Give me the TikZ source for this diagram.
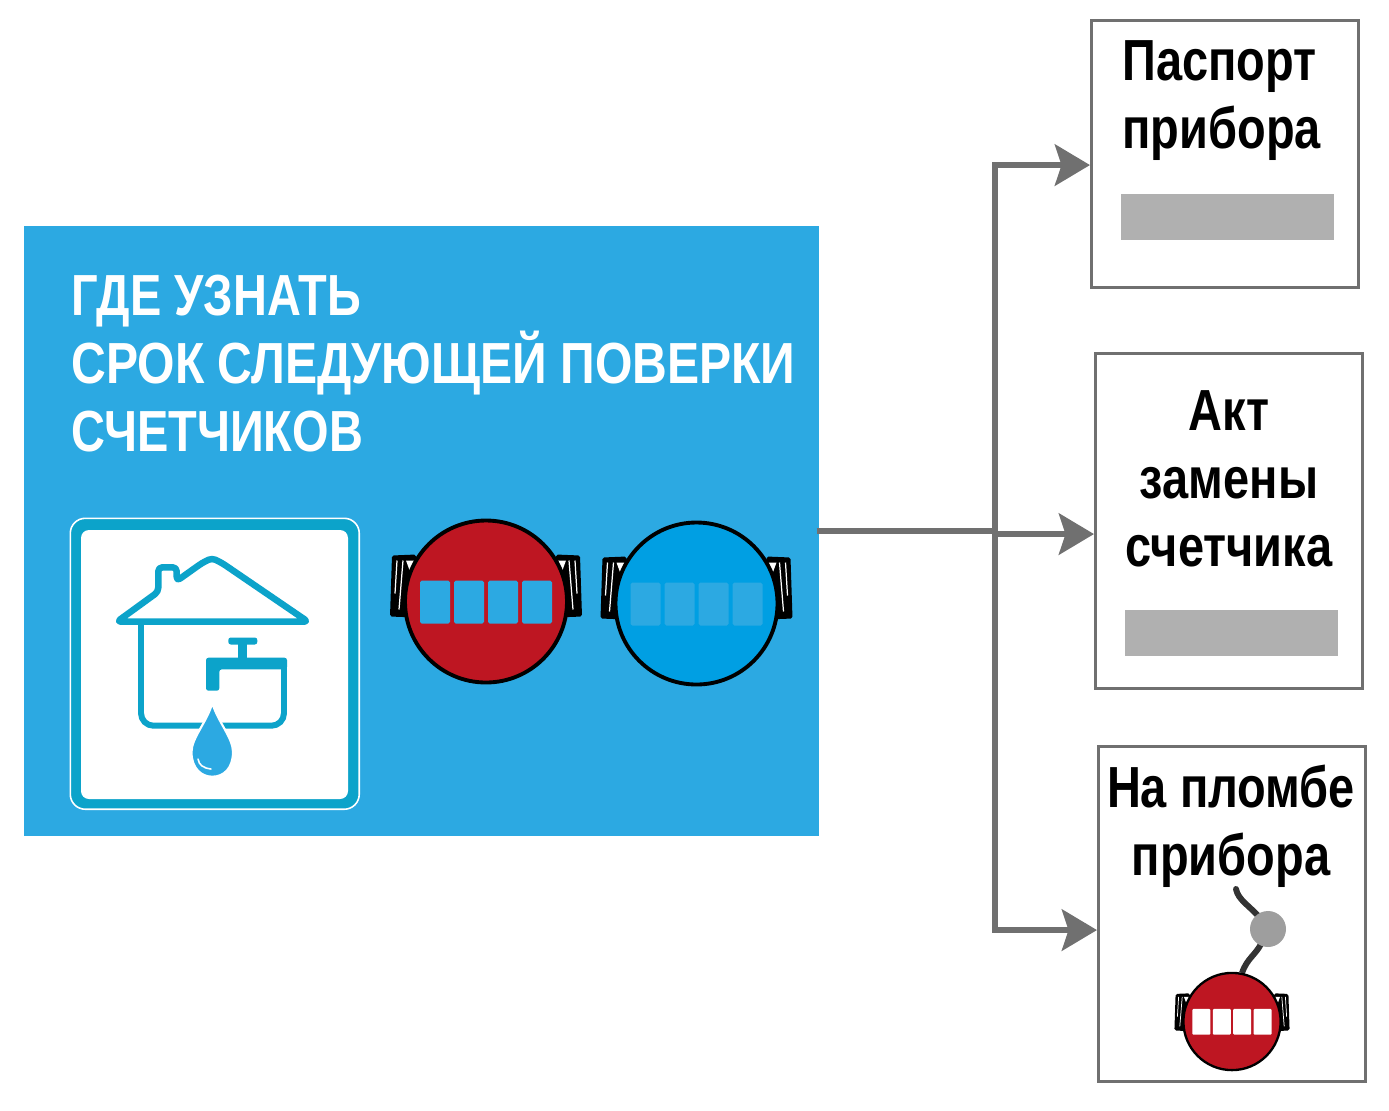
\documentclass[tikz,border=0pt]{standalone}
\usepackage{fontspec}
\usepackage{xcolor}
\usepackage{tikz}
\usetikzlibrary{positioning,arrows.meta,calc}
\setmainfont{Liberation Sans}[FakeStretch=0.81]
\definecolor{sky}{HTML}{2CA9E2}
\definecolor{teal}{HTML}{0CA3CA}
\definecolor{meterred}{HTML}{BE1622}
\definecolor{meterblue}{HTML}{009FE3}
\definecolor{frame}{HTML}{707070}
\definecolor{bar}{HTML}{B0B0B0}
% meter: x, y, scale, body colour, digit colour
\newcommand{\drawmeter}[5]{
    \begin{scope}[shift={(#1,#2)}, scale=#3]
        \foreach \s in {-1,1} {
            \fill[black, rounded corners=1pt] (\s*70,-47) -- (\s*94,-46) -- (\s*96,15) -- (\s*70,16) -- cycle;
            \fill[white] (\s*80,-41) -- (\s*72,-41) -- (\s*76,-30) -- cycle;
            \draw[white, line width=#3*0.7pt] (\s*83,-41) -- (\s*87,8);
            \draw[white, line width=#3*0.7pt] (\s*89,-41) -- (\s*91,-8);
        }
        \draw[black, fill=#4, line width=#3*2.2pt] (0,0) circle (81);
        \foreach \d in {-66,-32,2,36}
            \fill[#5, rounded corners=#3*1pt] (\d,-21) rectangle ++(30,43);
    \end{scope}
}

\begin{document}
\begin{tikzpicture}[
    x=0.02cm, y=-0.02cm,
    panel/.style={draw=frame, line width=1.8pt, fill=white, minimum width=5.34cm, inner sep=0pt},
    txt/.style={font=\fontsize{33}{38.7}\selectfont\bfseries, inner sep=0pt},
    placeholder/.style={fill=bar, minimum width=4.26cm, minimum height=0.92cm, inner sep=0pt},
    line/.style={draw=frame, line width=3.9pt},
    arr/.style={line, -{Stealth[length=7mm, width=8.2mm, inset=1.3mm]}},
    house/.style={draw=teal, line width=3.7pt, line join=round}
]
    \useasboundingbox (0,0) rectangle (1389,1110);

    % main panel
    \node[fill=sky, minimum width=15.9cm, minimum height=12.2cm, inner sep=0pt, anchor=north west] (src) at (24,226) {};
    \node[txt, white, align=left, anchor=west] (head) at (71,364) {ГДЕ УЗНАТЬ\\{\addfontfeature{FakeStretch=0.83}СРОК СЛЕДУЮЩЕЙ ПОВЕРКИ}\\СЧЕТЧИКОВ};

    % house icon
    \node[draw=white, line width=0.9pt, fill=teal, rounded corners=3mm, minimum width=5.78cm, minimum height=5.82cm, anchor=north west] (icon) at (69.5,517.5) {};
    \fill[white, rounded corners=1.6mm] (81,530) rectangle (348,799);
    \draw[house, rounded corners=0.8mm] (176.7,581) -- (176.7,567.3) -- (158.3,567.3) -- (158.3,591.7) -- (117,621.7) -- (308,621.7) -- (222,563) -- (212,558) -- (202,563) -- cycle;
    \draw[house, line width=3.4pt, rounded corners=2.5mm] (141,624) -- (141,725.7) -- (284,725.7) -- (284,660);
    \fill[teal, rounded corners=0.5mm] (206,657.7) -- (287,657.7) -- (287,669.3) -- (219.3,669.3) -- (219.3,690.7) -- (206,690.7) -- cycle;
    \fill[teal] (237.7,643) rectangle (247.3,658);
    \fill[teal, rounded corners=0.5mm] (228.3,637.5) rectangle (257.3,644.5);
    \draw[white, line width=1.2pt, fill=sky] (212.3,703) .. controls (207,722) and (191.5,738) .. (191.5,752) .. controls (191.5,768) and (201,776.7) .. (212.3,776.7) .. controls (224,776.7) and (233,768) .. (233,752) .. controls (233,738) and (218,722) .. (212.3,703) -- cycle;
    \draw[white, line width=0.9pt, line cap=round] (198,759) .. controls (199,765) and (203,768) .. (211,769);

    % meters
    \drawmeter{486}{601.5}{1}{meterred}{sky}
    \drawmeter{696.5}{603.5}{1}{meterblue}{sky}

    % right panels
    \node[panel, minimum height=5.34cm, anchor=north west] (passport) at (1090,19) {};
    \node[txt, align=left, anchor=west] (passporttxt) at (1122,101) {Паспорт\\прибора};
    \node[placeholder, anchor=north west] (passportbar) at (1121,194) {};

    \node[panel, minimum height=6.7cm, anchor=north west] (act) at (1094,352) {};
    \node[txt, align=center] (acttxt) at (1229,479) {Акт\\замены\\счетчика};
    \node[placeholder, anchor=north west] (actbar) at (1125,610) {};

    \node[panel, minimum height=6.7cm, anchor=north west] (seal) at (1097,745) {};
    \node[txt, align=center] (sealtxt) at (1231,826) {На пломбе\\прибора};

    % seal on its wire
    \draw[line width=3.4pt, draw=black!80, line cap=round] (1236,889) .. controls (1238,900) and (1250,906) .. (1260,918);
    \draw[line width=3.4pt, draw=black!80] (1262,942) .. controls (1256,955) and (1247,958) .. (1242,973);
    \node[circle, fill=bar!90!black, minimum size=0.72cm, inner sep=0pt] (plug) at (1268,929) {};
    \drawmeter{1232}{1021.5}{0.6}{meterred}{white}

    % connectors
    \coordinate (jmid) at (995,531);
    \coordinate (passportin) at ($(passport.west)+(0,11)$);
    \coordinate (actin) at ($(act.west)+(0,13)$);
    \coordinate (sealin) at ($(seal.west)+(0,16)$);
    \draw[line] ($(src.east |- jmid)+(-3,0)$) -- (jmid);
    \draw[arr] (jmid) |- (passportin);
    \draw[arr] (jmid) |- (sealin);
    \draw[arr] (jmid |- actin) -- (actin);
\end{tikzpicture}
\end{document}
